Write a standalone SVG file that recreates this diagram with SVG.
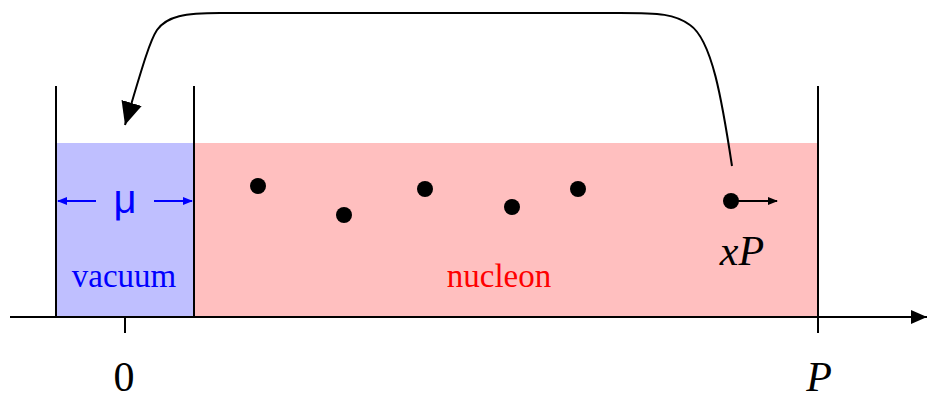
<svg xmlns="http://www.w3.org/2000/svg" width="927" height="401" viewBox="0 0 927 401">
<style>
.ln{stroke:#000;stroke-width:2;fill:none}
.dot{fill:#000}
.serif{font-family:"Liberation Serif","Times New Roman",serif}
</style>
<defs>
<marker id="ah" markerWidth="10" markerHeight="8" refX="9" refY="4" orient="auto" markerUnits="userSpaceOnUse"><path d="M0,0 L10,4 L0,8 Z" fill="#000"/></marker>
<marker id="ahb" markerWidth="10" markerHeight="8" refX="9" refY="4" orient="auto" markerUnits="userSpaceOnUse"><path d="M0,0 L10,4 L0,8 Z" fill="#0000ff"/></marker>
<marker id="big" markerWidth="23" markerHeight="21" refX="23" refY="10.5" orient="auto" markerUnits="userSpaceOnUse"><path d="M0,0 L23,10.5 L0,21 Z" fill="#000"/></marker>
<marker id="axh" markerWidth="16" markerHeight="14" refX="16" refY="7" orient="auto" markerUnits="userSpaceOnUse"><path d="M0,0 L16,7 L0,14 Z" fill="#000"/></marker>
</defs>
<g id="vacuum">
<rect x="56" y="143" width="138" height="174" fill="#bfbfff"/>
<text x="124" y="287" class="serif" font-size="33" fill="#0000ff" text-anchor="middle">vacuum</text>
<text x="125" y="213" font-family="Liberation Sans, Arial, sans-serif" font-size="40" fill="#0000ff" text-anchor="middle">μ</text>
</g>
<g id="nucleon">
<rect x="194" y="143" width="624" height="174" fill="#ffbfbf"/>
<text x="499" y="287" class="serif" font-size="33" fill="#ff0000" text-anchor="middle">nucleon</text>
<circle class="dot" cx="258" cy="186" r="8"/>
<circle class="dot" cx="344" cy="215" r="8"/>
<circle class="dot" cx="425" cy="189" r="8"/>
<circle class="dot" cx="512" cy="207" r="8"/>
<circle class="dot" cx="578" cy="189" r="8"/>
<circle class="dot" cx="731" cy="201" r="8"/>
<text x="742" y="265" class="serif" font-size="42" font-style="italic" text-anchor="middle">xP</text>
</g>
<g id="walls">
<line class="ln" x1="56" y1="86" x2="56" y2="317"/>
<line class="ln" x1="194" y1="86" x2="194" y2="317"/>
<line class="ln" x1="818" y1="86" x2="818" y2="333"/>
</g>
<g id="axis">
<line class="ln" x1="10" y1="317" x2="927" y2="317" marker-end="url(#axh)"/>
<line class="ln" x1="125" y1="317" x2="125" y2="333"/>
<text x="124" y="391" class="serif" font-size="42" text-anchor="middle">0</text>
<text x="819" y="391" class="serif" font-size="42" font-style="italic" text-anchor="middle">P</text>
</g>
<g id="connectors">
<line x1="96" y1="201" x2="58" y2="201" stroke="#0000ff" stroke-width="2" marker-end="url(#ahb)"/>
<line x1="154" y1="201" x2="192" y2="201" stroke="#0000ff" stroke-width="2" marker-end="url(#ahb)"/>
<line class="ln" x1="731" y1="201" x2="777" y2="201" marker-end="url(#ah)"/>
<path class="ln" d="M732,166 C722,100 712,40 690,25 C675,14 660,13 620,13 L220,13 C185,13 167,16 157,30 C149,42 140,75 125,125" marker-end="url(#big)"/>
</g>
</svg>
